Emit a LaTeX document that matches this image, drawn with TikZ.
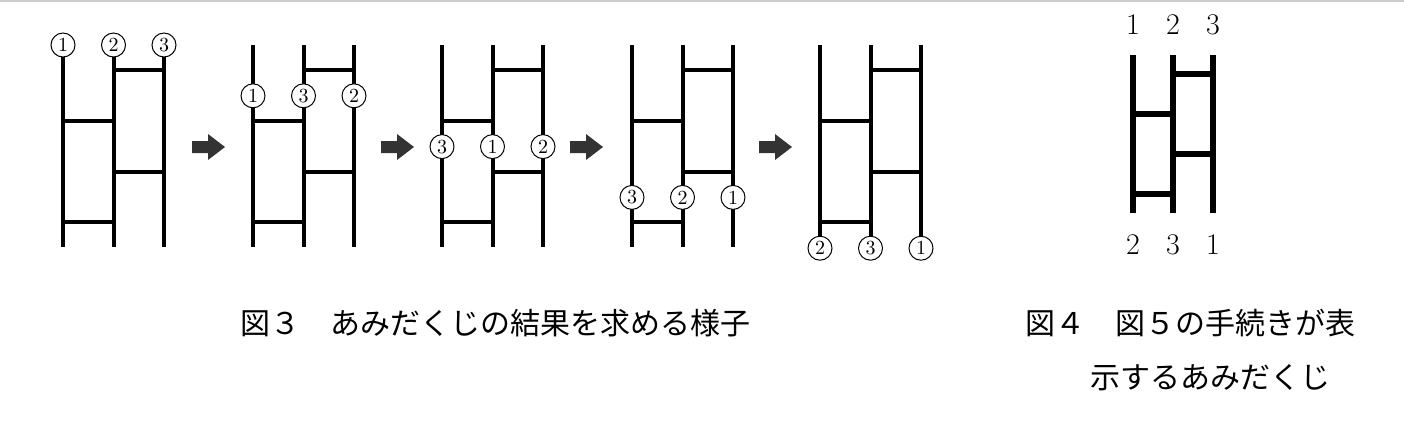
\documentclass[tikz,border=0pt]{standalone}
\usepackage{fontspec}
\newfontfamily\jpfont{Noto Sans CJK JP}
\tikzset{
    rail/.style={line width=2pt},
    num/.style={circle, draw, line width=0.5pt, fill=white, minimum size=12pt, inner sep=0pt, font=\fontsize{10}{10}\selectfont},
    step arrow/.style={fill=black!80}
}
\begin{document}
\begin{tikzpicture}[x=0.5pt, y=-0.5pt]
    \useasboundingbox (0, 0) rectangle (1404, 441);
    \draw[black!20, line width=1pt] (0, 1) -- (1404, 1);
    % five ladders of figure 3
    \foreach \k/\ox/\a/\b/\c in {1/63/1/2/3, 2/253/1/3/2, 3/442/3/1/2, 4/632/3/2/1, 5/820/2/3/1} {
        \begin{scope}[xshift=\ox*0.5pt]
            \foreach \i in {0, 1, 2}
                \draw[rail] (50.5*\i, 45) -- (50.5*\i, 247);
            \draw[rail] (0, 121) -- (50.5, 121);
            \draw[rail] (0, 222) -- (50.5, 222);
            \draw[rail] (50.5, 70) -- (101, 70);
            \draw[rail] (50.5, 172) -- (101, 172);
            \pgfmathsetmacro{\cy}{45 + 50.8*(\k - 1)}
            \node[num] (n\k a) at (0, \cy) {\a};
            \node[num] (n\k b) at (50.5, \cy) {\b};
            \node[num] (n\k c) at (101, \cy) {\c};
        \end{scope}
    }
    % arrows between ladders
    \foreach \ax in {192, 381, 570, 759}
        \fill[step arrow] (\ax, 141) -- (\ax + 16, 141) -- (\ax + 16, 134) -- (\ax + 33, 147)
            -- (\ax + 16, 160) -- (\ax + 16, 153) -- (\ax, 153) -- cycle;
    \node[font=\jpfont\fontsize{15}{18}\selectfont] (cap3) at (495, 323) {図３　あみだくじの結果を求める様子};
    % figure 4
    \begin{scope}[rail, line width=3pt]
        \foreach \x in {1133, 1173, 1213}
            \draw (\x, 55) -- (\x, 213);
        \draw (1173, 74) -- (1213, 74);
        \draw (1133, 114) -- (1173, 114);
        \draw (1173, 154) -- (1213, 154);
        \draw (1133, 194) -- (1173, 194);
    \end{scope}
    \foreach \x/\t/\u in {1133/1/2, 1173/2/3, 1213/3/1} {
        \node[font=\fontsize{15}{15}\selectfont] (top\t) at (\x, 25) {\t};
        \node[font=\fontsize{15}{15}\selectfont] (bot\t) at (\x, 245) {\u};
    }
    \node[font=\jpfont\fontsize{15}{18}\selectfont] (cap4a) at (1190, 323) {図４　図５の手続きが表};
    \node[font=\jpfont\fontsize{15}{18}\selectfont] (cap4b) at (1210, 378) {示するあみだくじ};
\end{tikzpicture}
\end{document}
